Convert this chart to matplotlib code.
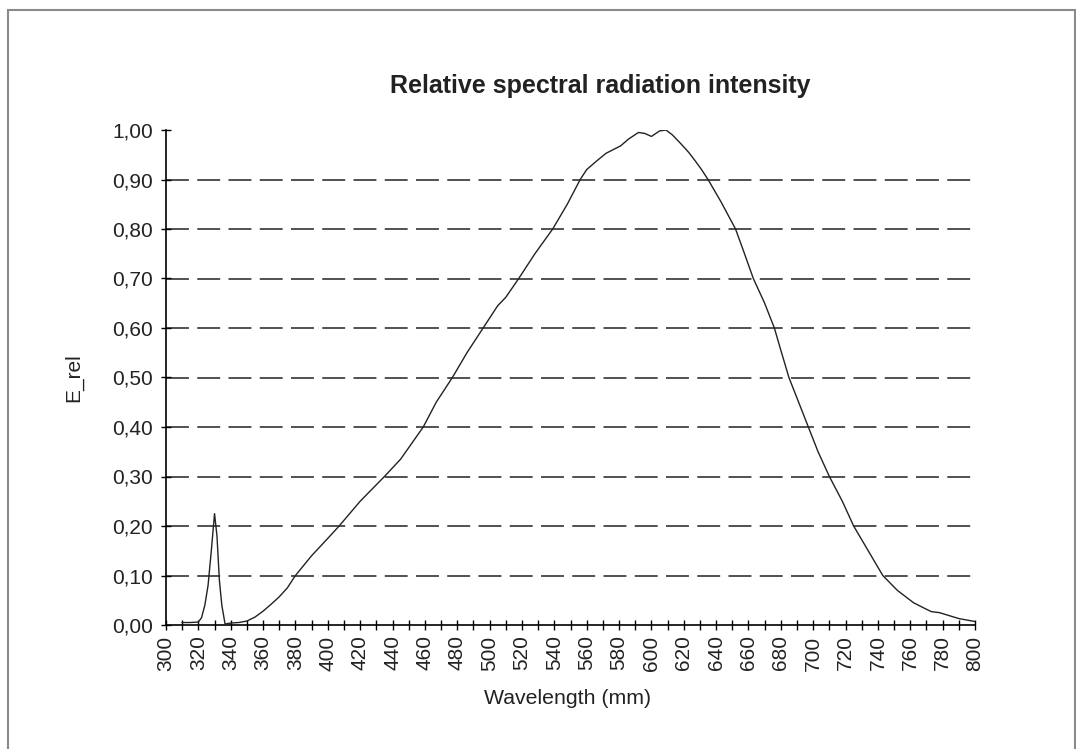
import matplotlib
matplotlib.use('Agg')
import matplotlib.pyplot as plt
from matplotlib.patches import Rectangle
from matplotlib.ticker import MultipleLocator, FuncFormatter

plt.rcParams['font.family'] = ['Liberation Sans', 'DejaVu Sans']
plt.rcParams['lines.scale_dashes'] = False

# Spectrum
wavelength = [310, 315, 320, 322, 324, 326, 328, 330, 331.5, 333, 334.5, 336.5,
              340, 345, 350, 355, 360, 365, 370, 375, 380, 390, 400, 407, 420,
              435, 445, 459, 467, 477, 486, 496, 505, 510, 518, 528, 539, 548,
              556, 560, 566, 572, 581, 586, 592, 596, 600, 605, 609, 613, 618,
              623, 627, 631, 635, 643, 652, 657, 663, 670, 676, 680, 685, 691,
              697, 703, 710, 718, 725, 734, 743, 752, 762, 768, 773, 778, 783,
              790, 800]
e_rel = [0.005, 0.005, 0.006, 0.015, 0.04, 0.08, 0.15, 0.225, 0.18, 0.09, 0.04, 0.002,
         0.004, 0.005, 0.008, 0.016, 0.028, 0.042, 0.057, 0.075, 0.1, 0.14, 0.175, 0.2, 0.25,
         0.3, 0.335, 0.4, 0.45, 0.5, 0.55, 0.6, 0.645, 0.662, 0.7, 0.75, 0.8, 0.85,
         0.9, 0.92, 0.937, 0.953, 0.968, 0.982, 0.995, 0.993, 0.987, 0.998, 1.0, 0.99, 0.973,
         0.955, 0.938, 0.92, 0.9, 0.855, 0.8, 0.755, 0.7, 0.65, 0.6, 0.555, 0.5, 0.45,
         0.4, 0.35, 0.3, 0.25, 0.2, 0.15, 0.1, 0.07, 0.045, 0.035, 0.027, 0.025, 0.02,
         0.013, 0.007]
grid_levels = [0.1, 0.2, 0.3, 0.4, 0.5, 0.6, 0.7, 0.8, 0.9]

fig = plt.figure(figsize=(10.76, 7.49), dpi=100)
fig.patches.append(Rectangle((8/1076, -0.01), (1075-8)/1076, 1 - 10/749 + 0.01,
                             transform=fig.transFigure, fill=False,
                             edgecolor='#8a8a8a', linewidth=1.5))

ax = fig.add_axes([166/1076, 1 - 625/749, (975-166)/1076, (625-130)/749])
ax.set_xlim(300, 800)
ax.set_ylim(0, 1.0)

for lvl in grid_levels:
    ax.plot([300, 800], [lvl, lvl], color='#333333', linewidth=1.2,
            linestyle=(0, (16.5, 6)), zorder=1)

ax.plot(wavelength, e_rel, color='#222222', linewidth=1.0, zorder=3)

for s in ['top', 'right']:
    ax.spines[s].set_visible(False)
for s in ['left', 'bottom']:
    ax.spines[s].set_linewidth(1.2)

ax.xaxis.set_major_locator(MultipleLocator(20))
ax.xaxis.set_minor_locator(MultipleLocator(10))
ax.yaxis.set_major_locator(MultipleLocator(0.1))
ax.yaxis.set_major_formatter(FuncFormatter(lambda v, p: f'{v:.2f}'.replace('.', ',')))
ax.tick_params(axis='both', which='both', direction='inout', length=7, width=1.0,
               labelsize=15, labelcolor='#222222')
ax.tick_params(axis='x', which='major', pad=4, labelrotation=90)
ax.tick_params(axis='y', pad=6)

ax.set_xlabel('Wavelength (mm)', fontsize=15.3, color='#222222')
ax.xaxis.set_label_coords(0.496, -0.13)
ax.set_ylabel('E_rel', fontsize=15, color='#222222')
ax.yaxis.set_label_coords(-0.102, 0.5)

fig.text(600/1076, 1 - 86/749, 'Relative spectral radiation intensity',
         ha='center', va='center', fontsize=18, fontweight='bold', color='#222222')

fig.savefig('out.png', dpi=100)
